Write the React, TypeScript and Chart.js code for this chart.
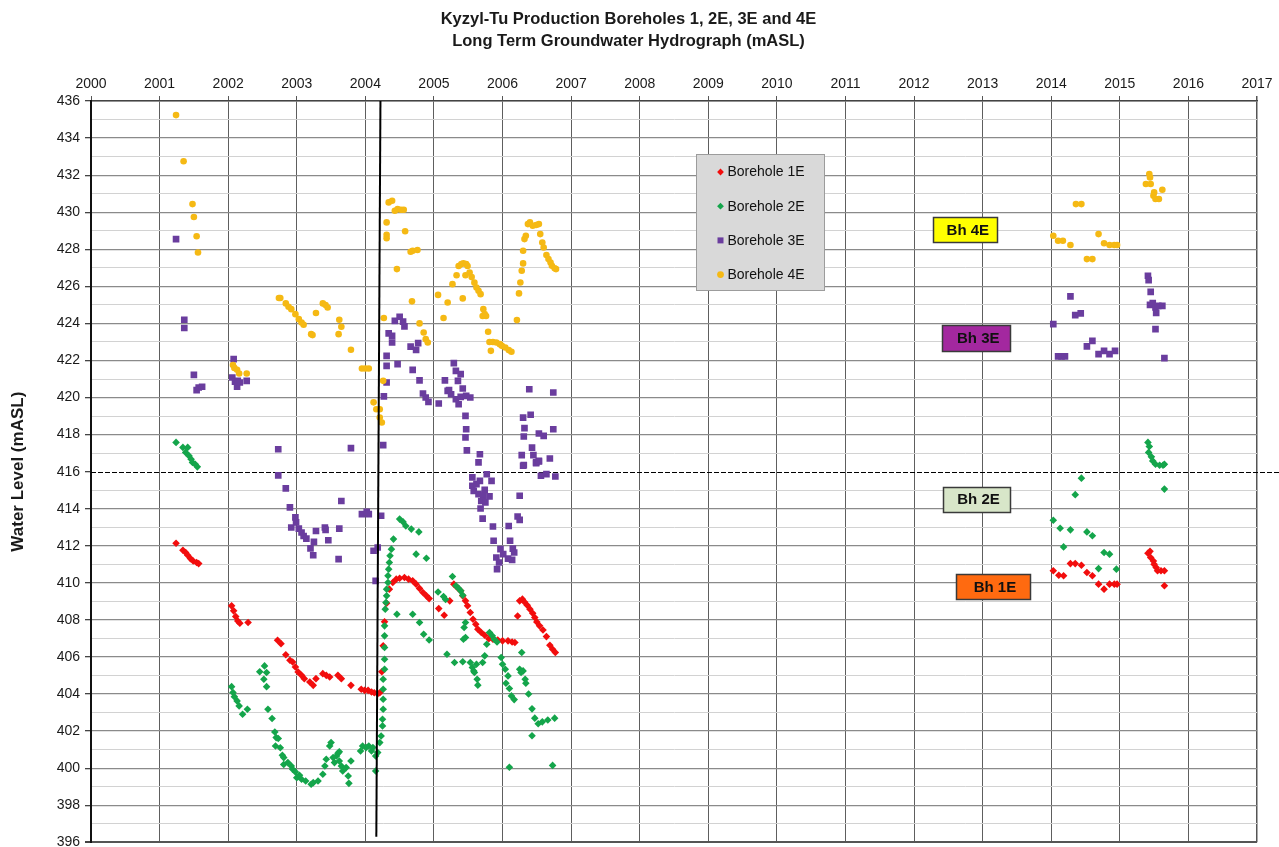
import React, { useEffect, useRef } from "react";
import { Chart, registerables } from "chart.js";

Chart.register(...registerables);

const FONT = "'Liberation Sans', Arial, Helvetica, sans-serif";

const titleLines = [
  "Kyzyl-Tu Production Boreholes 1, 2E, 3E and 4E",
  "Long Term Groundwater Hydrograph (mASL)",
];
const yAxisTitle = "Water Level (mASL)";
const yearRange = [2000, 2017];
const levelRange = [396, 436];
const referenceLevel = 416;
const seriesNames = ["Borehole 1E", "Borehole 2E", "Borehole 3E", "Borehole 4E"];
const tagTexts = ["Bh 4E", "Bh 3E", "Bh 2E", "Bh 1E"];

// [decimal year, water level mASL]
const bh1E: number[][] = [
  [2001.24, 412.14], [2001.34, 411.76], [2001.38, 411.64], [2001.41, 411.49], [2001.45, 411.31],
  [2001.49, 411.18], [2001.54, 411.1], [2001.57, 411.04],
  [2002.05, 408.76], [2002.08, 408.49], [2002.11, 408.18], [2002.14, 407.94], [2002.17, 407.82], [2002.29, 407.86],
  [2002.72, 406.9], [2002.77, 406.72], [2002.84, 406.12], [2002.9, 405.82], [2002.94, 405.73], [2002.98, 405.46],
  [2003.02, 405.19], [2003.07, 405.01], [2003.11, 404.83], [2003.19, 404.65], [2003.24, 404.47], [2003.28, 404.83],
  [2003.38, 405.1], [2003.43, 405.01], [2003.48, 404.92], [2003.6, 405.01], [2003.65, 404.83], [2003.79, 404.47],
  [2003.94, 404.26], [2003.99, 404.2], [2004.04, 404.2], [2004.09, 404.11], [2004.13, 404.07], [2004.18, 404.02],
  [2004.21, 404.07], [2004.24, 405.2], [2004.26, 406.6], [2004.28, 407.9], [2004.31, 408.9], [2004.35, 409.66],
  [2004.4, 410.02], [2004.45, 410.2], [2004.5, 410.25], [2004.57, 410.29], [2004.63, 410.2], [2004.69, 410.11],
  [2004.74, 409.93], [2004.79, 409.7], [2004.84, 409.48], [2004.89, 409.3], [2004.93, 409.15],
  [2005.07, 408.61], [2005.15, 408.25], [2005.23, 409.03], [2005.29, 409.93], [2005.34, 409.75], [2005.39, 409.57],
  [2005.42, 409.3], [2005.46, 409.03], [2005.49, 408.76], [2005.53, 408.4], [2005.57, 408.04], [2005.61, 407.77],
  [2005.64, 407.5], [2005.69, 407.32], [2005.74, 407.17], [2005.8, 406.99], [2005.86, 406.96], [2005.93, 406.92],
  [2006.0, 406.87], [2006.08, 406.87], [2006.14, 406.81], [2006.18, 406.78], [2006.22, 408.21], [2006.25, 409.03],
  [2006.29, 409.12], [2006.32, 408.97], [2006.36, 408.79], [2006.4, 408.58], [2006.44, 408.36], [2006.47, 408.13],
  [2006.5, 407.89], [2006.54, 407.68], [2006.59, 407.46], [2006.64, 407.1], [2006.69, 406.63], [2006.73, 406.42],
  [2006.77, 406.24],
  [2014.03, 410.65], [2014.11, 410.41], [2014.18, 410.38], [2014.28, 411.04], [2014.35, 411.04], [2014.44, 410.95],
  [2014.52, 410.56], [2014.6, 410.38], [2014.69, 409.93], [2014.77, 409.66], [2014.85, 409.93], [2014.92, 409.93],
  [2014.96, 409.93], [2015.41, 411.6], [2015.44, 411.7], [2015.45, 411.37], [2015.49, 411.18], [2015.5, 411.0],
  [2015.53, 410.83], [2015.55, 410.65], [2015.6, 410.65], [2015.65, 410.65], [2015.65, 409.84],
];

const bh2E: number[][] = [
  [2001.24, 417.58], [2001.34, 417.31], [2001.38, 417.04], [2001.41, 417.31], [2001.43, 416.85], [2001.46, 416.67],
  [2001.48, 416.5], [2001.52, 416.4], [2001.55, 416.26],
  [2002.05, 404.4], [2002.07, 404.08], [2002.09, 403.86], [2002.13, 403.63], [2002.16, 403.36], [2002.21, 402.91],
  [2002.28, 403.18], [2002.46, 405.2], [2002.53, 405.52], [2002.56, 405.16], [2002.52, 404.8], [2002.56, 404.4],
  [2002.58, 403.18], [2002.64, 402.68], [2002.68, 401.95], [2002.7, 401.65], [2002.73, 401.6], [2002.69, 401.2],
  [2002.76, 401.1], [2002.79, 400.7], [2002.81, 400.57], [2002.81, 400.2], [2002.87, 400.3], [2002.92, 400.12],
  [2002.94, 399.94], [2002.98, 399.8], [2003.0, 399.49], [2003.04, 399.62], [2003.07, 399.4], [2003.13, 399.31],
  [2003.21, 399.13], [2003.24, 399.22], [2003.31, 399.31], [2003.38, 399.67], [2003.41, 400.12], [2003.43, 400.48],
  [2003.48, 401.2], [2003.5, 401.38], [2003.53, 400.57], [2003.55, 400.3], [2003.58, 400.66], [2003.6, 400.8],
  [2003.62, 400.39], [2003.62, 400.88], [2003.65, 400.12], [2003.67, 399.85], [2003.72, 400.03], [2003.75, 399.58],
  [2003.76, 399.18], [2003.79, 400.39], [2003.93, 400.93], [2003.96, 401.2], [2004.01, 401.11], [2004.05, 401.2],
  [2004.09, 400.93], [2004.11, 401.11], [2004.15, 400.66], [2004.15, 399.85],
  [2004.18, 400.84], [2004.21, 401.38], [2004.23, 401.74], [2004.25, 402.28], [2004.25, 402.64], [2004.26, 403.18],
  [2004.26, 403.72], [2004.26, 404.26], [2004.26, 404.8], [2004.28, 405.34], [2004.28, 405.88], [2004.28, 406.51],
  [2004.28, 407.14], [2004.28, 407.68], [2004.29, 408.58], [2004.3, 408.94], [2004.31, 409.3], [2004.31, 409.66],
  [2004.33, 410.02], [2004.33, 410.38], [2004.34, 410.74], [2004.35, 411.1], [2004.36, 411.46], [2004.38, 411.82],
  [2004.41, 412.36], [2004.5, 413.44], [2004.55, 413.29], [2004.59, 413.07], [2004.67, 412.9], [2004.78, 412.75],
  [2004.74, 411.55], [2004.89, 411.33], [2004.46, 408.31], [2004.69, 408.31], [2004.79, 407.86], [2004.85, 407.23],
  [2004.93, 406.92], [2005.06, 409.51], [2005.14, 409.26], [2005.17, 409.1], [2005.27, 410.34], [2005.32, 409.84],
  [2005.36, 409.7], [2005.39, 409.57], [2005.42, 409.33], [2005.19, 406.15], [2005.3, 405.7], [2005.42, 405.74],
  [2005.46, 407.86], [2005.44, 407.59], [2005.46, 407.05], [2005.43, 406.96], [2005.53, 405.7], [2005.56, 405.43],
  [2005.58, 405.25], [2005.62, 405.61], [2005.59, 405.16], [2005.63, 404.8], [2005.64, 404.48], [2005.71, 405.7],
  [2005.74, 406.06], [2005.77, 406.69], [2005.81, 407.32], [2005.85, 407.14], [2005.88, 406.96], [2005.92, 406.81],
  [2005.98, 405.97], [2006.0, 405.61], [2006.04, 405.34], [2006.08, 404.98], [2006.05, 404.58], [2006.1, 404.3],
  [2006.13, 403.9], [2006.17, 403.7], [2006.28, 406.24], [2006.25, 405.34], [2006.27, 405.16], [2006.3, 405.25],
  [2006.33, 404.8], [2006.34, 404.58], [2006.38, 404.0], [2006.43, 403.2], [2006.47, 402.7], [2006.52, 402.4],
  [2006.43, 401.75], [2006.58, 402.5], [2006.66, 402.6], [2006.73, 400.15], [2006.76, 402.7], [2006.1, 400.05],
  [2014.03, 413.38], [2014.13, 412.95], [2014.28, 412.86], [2014.18, 411.94], [2014.35, 414.76], [2014.44, 415.65],
  [2014.52, 412.75], [2014.6, 412.54], [2014.69, 410.77], [2014.77, 411.64], [2014.85, 411.55], [2014.95, 410.74],
  [2015.41, 417.58], [2015.43, 417.36], [2015.42, 417.04], [2015.46, 416.8], [2015.48, 416.58], [2015.52, 416.4],
  [2015.58, 416.35], [2015.63, 416.35], [2015.65, 416.4], [2015.65, 415.06],
];

const bh3E: number[][] = [
  [2001.24, 428.55], [2001.36, 424.2], [2001.36, 423.75], [2001.5, 421.22], [2001.54, 420.4], [2001.57, 420.54],
  [2001.62, 420.58], [2002.08, 422.07], [2002.06, 421.08], [2002.1, 420.85], [2002.14, 420.9], [2002.13, 420.58],
  [2002.17, 420.81], [2002.27, 420.9],
  [2002.73, 417.21], [2002.73, 415.8], [2002.84, 415.1], [2002.9, 414.07], [2002.98, 413.53], [2002.92, 412.99],
  [2002.99, 413.26], [2003.03, 412.93], [2003.07, 412.72], [2003.1, 412.53], [2003.14, 412.39], [2003.2, 411.86],
  [2003.24, 411.49], [2003.25, 412.21], [2003.28, 412.8], [2003.41, 412.99], [2003.42, 412.86], [2003.46, 412.3],
  [2003.61, 411.28], [2003.62, 412.93], [2003.65, 414.42], [2003.79, 417.27], [2003.95, 413.71], [2004.02, 413.83],
  [2004.05, 413.71], [2004.12, 411.73], [2004.18, 411.91], [2004.15, 410.11], [2004.23, 413.62],
  [2004.26, 417.43], [2004.27, 420.06], [2004.31, 420.81], [2004.31, 421.71], [2004.31, 422.25], [2004.34, 423.46],
  [2004.39, 423.33], [2004.39, 422.97], [2004.43, 424.14], [2004.5, 424.36], [2004.55, 424.1], [2004.57, 423.84],
  [2004.47, 421.8], [2004.66, 422.75], [2004.74, 422.57], [2004.77, 422.94], [2004.69, 421.49], [2004.79, 420.93],
  [2004.84, 420.22], [2004.88, 420.0], [2004.92, 419.77], [2005.07, 419.68], [2005.16, 420.93], [2005.2, 420.36],
  [2005.29, 421.86], [2005.32, 421.44], [2005.39, 421.26], [2005.35, 420.9], [2005.42, 420.49], [2005.22, 420.4],
  [2005.25, 420.18], [2005.32, 419.91], [2005.36, 419.64], [2005.39, 420.04], [2005.47, 420.09], [2005.53, 420.0],
  [2005.46, 419.01], [2005.47, 418.29], [2005.46, 417.85], [2005.48, 417.15], [2005.67, 416.94], [2005.65, 416.5],
  [2005.77, 415.86], [2005.84, 415.5], [2005.67, 415.5], [2005.56, 415.69], [2005.56, 415.24], [2005.62, 415.33],
  [2005.58, 414.96], [2005.65, 414.79], [2005.74, 415.02], [2005.72, 414.7], [2005.81, 414.67], [2005.69, 414.42],
  [2005.75, 414.34], [2005.68, 414.01], [2005.71, 413.47], [2005.86, 413.04], [2005.87, 412.27], [2005.97, 411.82],
  [2005.91, 411.37], [2005.95, 411.1], [2005.92, 410.74], [2006.01, 411.55], [2006.08, 411.31], [2006.14, 411.24],
  [2006.11, 412.27], [2006.15, 411.85], [2006.17, 411.64], [2006.09, 413.07], [2006.22, 413.58], [2006.25, 413.4],
  [2006.25, 414.7], [2006.3, 416.32], [2006.49, 416.46], [2006.53, 416.58], [2006.56, 415.78], [2006.64, 415.87],
  [2006.77, 415.74], [2006.39, 420.45], [2006.74, 420.27], [2006.3, 418.92], [2006.41, 419.07], [2006.32, 418.35],
  [2006.31, 417.9], [2006.53, 418.06], [2006.6, 417.93], [2006.74, 418.29], [2006.43, 417.3], [2006.45, 416.89],
  [2006.28, 416.89], [2006.69, 416.71], [2006.49, 416.5], [2006.53, 416.55], [2006.31, 416.35],
  [2014.03, 423.96], [2014.1, 422.22], [2014.15, 422.22], [2014.2, 422.22], [2014.28, 425.46], [2014.35, 424.45],
  [2014.43, 424.54], [2014.52, 422.76], [2014.6, 423.06], [2014.69, 422.34], [2014.77, 422.52], [2014.85, 422.34],
  [2014.93, 422.52], [2015.41, 426.57], [2015.42, 426.34], [2015.45, 425.7], [2015.44, 425.0], [2015.48, 425.1],
  [2015.52, 424.86], [2015.56, 424.95], [2015.62, 424.95], [2015.53, 424.56], [2015.52, 423.69], [2015.65, 422.13],
];

const bh4E: number[][] = [
  [2001.24, 435.24], [2001.35, 432.75], [2001.48, 430.44], [2001.5, 429.74], [2001.54, 428.7], [2001.56, 427.83],
  [2002.07, 421.75], [2002.09, 421.6], [2002.13, 421.5], [2002.16, 421.3], [2002.27, 421.3],
  [2002.74, 425.37], [2002.76, 425.37], [2002.84, 425.08], [2002.88, 424.9], [2002.92, 424.77], [2002.98, 424.5],
  [2003.03, 424.23], [2003.07, 424.05], [2003.1, 423.93], [2003.21, 423.42], [2003.23, 423.37], [2003.28, 424.56],
  [2003.38, 425.08], [2003.42, 424.99], [2003.45, 424.86], [2003.62, 424.2], [2003.65, 423.82], [2003.61, 423.42],
  [2003.79, 422.58], [2003.95, 421.57], [2004.0, 421.57], [2004.05, 421.57], [2004.12, 419.74], [2004.16, 419.37],
  [2004.21, 419.37], [2004.21, 418.92], [2004.24, 418.65], [2004.26, 420.9], [2004.27, 424.29], [2004.31, 429.45],
  [2004.31, 428.78], [2004.31, 428.6], [2004.34, 430.53], [2004.39, 430.62], [2004.43, 430.08], [2004.47, 430.17],
  [2004.52, 430.13], [2004.56, 430.13], [2004.58, 428.97], [2004.46, 426.93], [2004.66, 427.87], [2004.69, 427.92],
  [2004.76, 427.96], [2004.68, 425.19], [2004.79, 424.0], [2004.85, 423.51], [2004.88, 423.15], [2004.91, 422.97],
  [2005.06, 425.54], [2005.14, 424.29], [2005.2, 425.13], [2005.27, 426.12], [2005.33, 426.6], [2005.36, 427.1],
  [2005.4, 427.2], [2005.43, 427.25], [2005.47, 427.2], [2005.49, 427.1], [2005.42, 425.35], [2005.46, 426.6],
  [2005.52, 426.75], [2005.55, 426.5], [2005.59, 426.2], [2005.62, 425.94], [2005.65, 425.76], [2005.68, 425.58],
  [2005.72, 424.77], [2005.74, 424.5], [2005.71, 424.4], [2005.76, 424.4], [2005.79, 423.55], [2005.81, 423.0],
  [2005.86, 423.0], [2005.91, 422.97], [2005.96, 422.88], [2005.99, 422.79], [2006.04, 422.7], [2006.09, 422.56],
  [2006.13, 422.47], [2005.83, 422.52], [2006.21, 424.18], [2006.24, 425.62], [2006.26, 426.21], [2006.28, 426.84],
  [2006.3, 427.24], [2006.3, 427.92], [2006.32, 428.55], [2006.34, 428.73], [2006.37, 429.36], [2006.4, 429.45],
  [2006.44, 429.27], [2006.49, 429.31], [2006.53, 429.36], [2006.55, 428.82], [2006.58, 428.37], [2006.6, 428.1],
  [2006.64, 427.69], [2006.67, 427.47], [2006.7, 427.29], [2006.72, 427.11], [2006.76, 426.98], [2006.78, 426.93],
  [2014.03, 428.73], [2014.1, 428.46], [2014.17, 428.46], [2014.28, 428.23], [2014.36, 430.44], [2014.44, 430.44],
  [2014.52, 427.47], [2014.6, 427.47], [2014.69, 428.82], [2014.77, 428.33], [2014.85, 428.23], [2014.92, 428.23],
  [2014.96, 428.23], [2015.43, 432.06], [2015.44, 431.88], [2015.38, 431.52], [2015.45, 431.52], [2015.5, 431.07],
  [2015.49, 430.89], [2015.52, 430.71], [2015.57, 430.71], [2015.62, 431.21],
];

// black marker line (start of 2004 pumping)
const dividerLine: number[][] = [[2004.22, 436], [2004.16, 396.3]];

const COLORS = ["#f20d0d", "#14a54b", "#6a3d9e", "#f5b914"];
const STYLES = ["rectRot", "rectRot", "rect", "circle"];
const RADII = [3.8, 3.8, 4.7, 3.3];

function toXY(arr: number[][]) {
  return arr.map((p) => ({ x: p[0], y: p[1] }));
}

function drawMarker(ctx: CanvasRenderingContext2D, style: string, x: number, y: number, r: number, color: string) {
  ctx.fillStyle = color;
  ctx.beginPath();
  if (style === "circle") {
    ctx.arc(x, y, r, 0, Math.PI * 2);
  } else if (style === "rect") {
    ctx.rect(x - r, y - r, 2 * r, 2 * r);
  } else {
    ctx.moveTo(x, y - r);
    ctx.lineTo(x + r, y);
    ctx.lineTo(x, y + r);
    ctx.lineTo(x - r, y);
    ctx.closePath();
  }
  ctx.fill();
}

const overlayPlugin = {
  id: "overlayPlugin",
  beforeDatasetsDraw(chart: any) {
    const ctx: CanvasRenderingContext2D = chart.ctx;
    const ys = chart.scales.y;
    const py = Math.round(ys.getPixelForValue(referenceLevel)) + 0.5;
    ctx.save();
    ctx.strokeStyle = "#000";
    ctx.lineWidth = 1;
    ctx.setLineDash([5, 2]);
    ctx.beginPath();
    ctx.moveTo(chart.chartArea.left, py);
    ctx.lineTo(chart.width, py);
    ctx.stroke();
    ctx.restore();
  },
  afterDatasetsDraw(chart: any) {
    const ctx: CanvasRenderingContext2D = chart.ctx;
    const xs = chart.scales.x;
    const ys = chart.scales.y;
    ctx.save();

    // legend box
    const lx = Math.round(xs.getPixelForValue(2008.82)) + 0.5;
    const ly = Math.round(ys.getPixelForValue(433.14)) + 0.5;
    const lw = 128;
    const lh = 136;
    ctx.fillStyle = "#d9d9d9";
    ctx.fillRect(lx, ly, lw, lh);
    ctx.strokeStyle = "#9c9c9c";
    ctx.lineWidth = 1;
    ctx.strokeRect(lx, ly, lw, lh);
    ctx.font = `14px ${FONT}`;
    ctx.textBaseline = "middle";
    ctx.textAlign = "left";
    seriesNames.forEach((name, i) => {
      const cy = ly + 17.5 + i * 34.2;
      drawMarker(ctx, STYLES[i], lx + 24, cy, i === 2 ? 3 : 3.4, COLORS[i]);
      ctx.fillStyle = "#111";
      ctx.fillText(name, lx + 31, cy + 0.5);
    });

    // borehole tags
    const tags = [
      { cx: 2012.74, cy: 429.06, w: 64, h: 25, fill: "#ffff00", dx: 3 },
      { cx: 2012.9, cy: 423.22, w: 68, h: 26, fill: "#a3289f", dx: 2.5 },
      { cx: 2012.91, cy: 414.52, w: 67, h: 25, fill: "#d8e6c9", dx: 2 },
      { cx: 2013.15, cy: 409.79, w: 74, h: 25, fill: "#ff6a10", dx: 2 },
    ];
    ctx.font = `bold 15px ${FONT}`;
    ctx.textAlign = "center";
    tags.forEach((t, i) => {
      const px = xs.getPixelForValue(t.cx);
      const py = ys.getPixelForValue(t.cy);
      const x0 = Math.round(px - t.w / 2) + 0.5;
      const y0 = Math.round(py - t.h / 2) + 0.5;
      ctx.fillStyle = t.fill;
      ctx.fillRect(x0, y0, t.w, t.h);
      ctx.strokeStyle = "#3a3a3a";
      ctx.lineWidth = 1.5;
      ctx.strokeRect(x0, y0, t.w, t.h);
      ctx.fillStyle = "#111";
      ctx.fillText(tagTexts[i], px + t.dx, py + 1);
    });
    ctx.restore();
  },
};

export default function App() {
  const canvasRef = useRef<HTMLCanvasElement | null>(null);

  useEffect(() => {
    const canvas = canvasRef.current;
    if (!canvas) return;
    const series = [bh1E, bh2E, bh3E, bh4E];
    const datasets: any[] = [
      {
        type: "line",
        label: "divider",
        data: toXY(dividerLine),
        borderColor: "#000",
        borderWidth: 2,
        pointRadius: 0,
        showLine: true,
        fill: false,
        order: 0,
      },
      ...series.map((s, i) => ({
        label: seriesNames[i],
        data: toXY(s),
        pointStyle: STYLES[i],
        pointRadius: RADII[i],
        pointBackgroundColor: COLORS[i],
        pointBorderColor: COLORS[i],
        pointBorderWidth: 0,
        showLine: false,
        order: 5 - i,
      })),
    ];

    const chart = new Chart(canvas, {
      type: "scatter",
      data: { datasets },
      options: {
        animation: false,
        responsive: false,
        maintainAspectRatio: false,
        layout: { padding: { left: 0, right: 22, top: 0, bottom: 4 } },
        plugins: {
          legend: { display: false },
          tooltip: { enabled: false },
          title: {
            display: true,
            text: titleLines,
            color: "#1a1a1a",
            font: { family: FONT, size: 16.5, weight: "bold", lineHeight: 1.38 },
            padding: { top: 7.6, bottom: 5 },
          },
        },
        scales: {
          x: {
            type: "linear",
            position: "top",
            min: yearRange[0],
            max: yearRange[1],
            afterFit: (scale: any) => {
              scale.height = 42.9;
              scale.paddingLeft = 0;
              scale.paddingRight = 0;
            },
            ticks: {
              stepSize: 1,
              autoSkip: false,
              maxRotation: 0,
              padding: 3,
              color: "#1a1a1a",
              font: { family: FONT, size: 14 },
              callback: (v: any) => String(v),
            },
            grid: {
              color: (c: any) => (c.tick && c.tick.value === yearRange[1] ? "#555" : "#5e5e5e"),
              lineWidth: (c: any) => (c.tick && c.tick.value === yearRange[1] ? 1.5 : 1),
              tickLength: 5,
              tickColor: "#555",
            },
            border: { display: true, color: "#444", width: 1.5 },
          },
          y: {
            type: "linear",
            min: levelRange[0],
            max: levelRange[1],
            afterFit: (scale: any) => {
              scale.width = 91;
              scale.paddingTop = 0;
              scale.paddingBottom = 0;
            },
            title: {
              display: true,
              text: yAxisTitle,
              color: "#1a1a1a",
              font: { family: FONT, size: 17, weight: "bold" },
              padding: { top: 8, bottom: 0 },
            },
            ticks: {
              stepSize: 1,
              autoSkip: false,
              padding: 5,
              color: "#1a1a1a",
              font: { family: FONT, size: 14 },
              callback: (v: any) => (Number(v) % 2 === 0 ? String(v) : ""),
            },
            grid: {
              color: (c: any) => {
                const v = c.tick ? c.tick.value : 0;
                if (v === referenceLevel) return "rgba(0,0,0,0)";
                if (v === levelRange[0]) return "#555";
                return v % 2 === 0 ? "#8a8a8a" : "#d2d2d2";
              },
              lineWidth: (c: any) => {
                const v = c.tick ? c.tick.value : 0;
                if (v === levelRange[0]) return 2;
                return v % 2 === 0 ? 1.3 : 1;
              },
              tickLength: 6,
              tickColor: (c: any) => {
                const v = c.tick ? c.tick.value : 0;
                return v % 2 === 0 ? "#444" : "rgba(0,0,0,0)";
              },
            },
            border: { display: true, color: "#111", width: 2 },
          },
        },
      },
      plugins: [overlayPlugin],
    } as any);

    return () => chart.destroy();
  }, []);

  return (
    <div style={{ position: "absolute", left: 0, top: 0, width: 1279, height: 847, background: "#fff" }}>
      <canvas ref={canvasRef} width={1279} height={847} style={{ width: 1279, height: 847, display: "block" }} />
    </div>
  );
}
